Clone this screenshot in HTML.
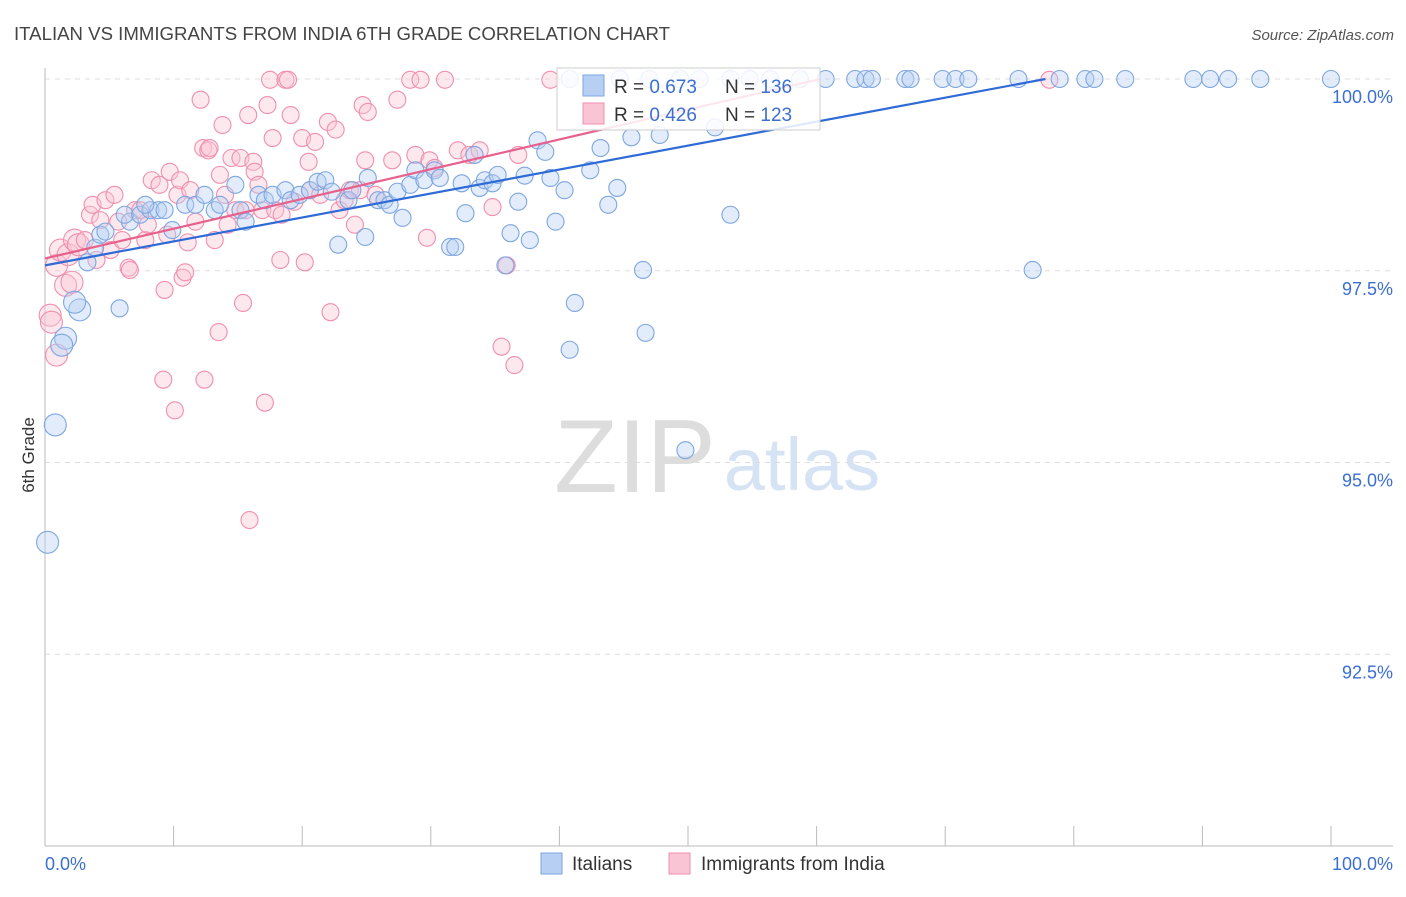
<!DOCTYPE html>
<html><head><meta charset="utf-8"><style>
body{margin:0;background:#fff;font-family:"Liberation Sans",sans-serif;}
svg text{font-family:"Liberation Sans",sans-serif;}
</style></head><body>
<svg id="chart" width="1406" height="892" xmlns="http://www.w3.org/2000/svg">
<text x="14" y="40" font-size="18" fill="#444" textLength="656" lengthAdjust="spacingAndGlyphs">ITALIAN VS IMMIGRANTS FROM INDIA 6TH GRADE CORRELATION CHART</text>
<text x="1394" y="40" font-size="15" fill="#555" text-anchor="end" font-style="italic">Source: ZipAtlas.com</text>
<text transform="translate(34,455) rotate(-90)" font-size="17" fill="#333" text-anchor="middle">6th Grade</text>
<g>
<text x="635" y="492" font-size="104" fill="#ddd" font-family="Liberation Serif" text-anchor="middle">ZIP</text>
<text x="802" y="490" font-size="74" fill="#d5e3f5" text-anchor="middle">atlas</text>
</g>
<g id="grid"></g>
<g id="axes"></g>
<g id="pinkPts"></g>
<g id="bluePts"></g>
<g id="lines"></g>
<g>
<rect x="557" y="68" width="263" height="62" fill="#fff" fill-opacity="0.85" stroke="#ccc"/>
<rect x="583" y="75" width="21" height="21" fill="#b7cff2" stroke="#7ea6e0"/>
<rect x="583" y="103" width="21" height="21" fill="#f9c5d5" stroke="#f08fae"/>
<text x="614" y="93" font-size="19" fill="#333">R = <tspan fill="#3b6fd1">0.673</tspan></text>
<text x="725" y="93" font-size="19" fill="#333">N = <tspan fill="#3b6fd1">136</tspan></text>
<text x="614" y="121" font-size="19" fill="#333">R = <tspan fill="#3b6fd1">0.426</tspan></text>
<text x="725" y="121" font-size="19" fill="#333">N = <tspan fill="#3b6fd1">123</tspan></text>
</g>
<g>
<rect x="541" y="853" width="21" height="21" fill="#b7cff2" stroke="#7ea6e0"/>
<text x="572" y="870" font-size="19" fill="#333">Italians</text>
<rect x="669" y="853" width="21" height="21" fill="#f9c5d5" stroke="#f08fae"/>
<text x="701" y="870" font-size="19" fill="#333">Immigrants from India</text>
</g>
</svg>
<script>
const blueX=[0.2,0.8,1.6,1.3,2.7,2.3,5.8,3.3,3.9,4.3,4.7,6.6,6.2,7.4,8.2,8.8,9.3,7.8,9.9,10.9,11.7,12.4,13.2,13.6,14.8,15.2,15.6,16.6,17.1,17.7,18.7,19.1,19.8,20.6,21.2,21.8,22.3,22.8,23.6,23.9,24.9,25.1,25.9,26.4,26.8,27.4,27.8,28.4,28.8,29.5,30.3,30.7,31.5,31.9,32.4,32.7,33.4,33.8,34.2,34.8,35.2,35.8,36.2,36.8,37.3,37.7,38.3,38.9,39.3,39.7,40.4,40.8,41.2,42.4,43.2,43.8,44.5,45.6,46.5,46.7,47.8,49.8,52.1,53.3,76.8,40.8,44.7,47.0,49.4,50.9,53.3,54.8,56.4,58.7,60.7,63.0,63.8,64.3,66.9,67.3,69.8,70.8,71.8,75.7,78.9,80.9,81.6,84.0,89.3,90.6,92.0,94.5,100];
const blueY=[93.96,95.49,96.62,96.53,96.99,97.09,97.01,97.61,97.80,97.97,98.01,98.14,98.23,98.23,98.29,98.29,98.29,98.36,98.03,98.36,98.36,98.49,98.29,98.36,98.62,98.29,98.14,98.49,98.42,98.49,98.55,98.42,98.49,98.55,98.66,98.68,98.53,97.84,98.42,98.55,97.94,98.71,98.42,98.42,98.36,98.53,98.19,98.62,98.81,98.68,98.81,98.71,97.81,97.81,98.64,98.25,99.01,98.58,98.68,98.64,98.75,97.57,97.99,98.40,98.74,97.90,99.20,99.05,98.71,98.14,98.55,96.47,97.08,98.81,99.10,98.36,98.58,99.24,97.51,96.69,99.27,95.16,99.37,98.23,97.51,100,100,100,100,100,100,100,100,100,100,100,100,100,100,100,100,100,100,100,100,100,100,100,100,100,100,100,100];
const pinkX=[0.4,0.5,0.9,0.9,1.2,1.6,1.8,2.1,2.3,2.6,3.1,3.5,3.7,4.0,4.3,4.7,5.1,5.4,5.7,6.0,6.5,6.6,7.0,7.4,7.8,8.0,8.3,8.9,9.2,9.3,9.5,9.7,10.1,10.3,10.5,10.7,10.9,11.1,11.3,11.7,12.1,12.3,12.4,12.7,12.8,13.2,13.5,13.6,13.8,14.0,14.2,14.5,14.8,15.2,15.4,15.6,15.8,15.9,16.2,16.3,16.6,16.9,17.1,17.3,17.5,17.7,17.9,18.3,18.4,18.7,18.9,19.1,19.4,20.0,20.2,20.5,20.6,21.0,21.4,22.0,22.2,22.6,22.9,23.3,23.7,24.1,24.5,24.7,24.9,25.1,25.7,27.0,27.4,28.4,28.8,29.2,29.7,29.9,30.3,31.1,32.1,33.0,33.8,34.8,35.5,35.9,36.5,36.8,39.3,78.1];
const pinkY=[96.92,96.83,96.40,97.57,97.77,97.31,97.71,97.35,97.90,97.84,97.90,98.23,98.36,97.64,98.16,98.42,97.77,98.49,98.14,97.90,97.54,97.51,98.29,98.29,97.90,98.10,98.68,98.62,96.08,97.25,97.97,98.79,95.68,98.49,98.68,97.41,97.48,97.87,98.55,98.14,99.73,99.10,96.08,99.07,99.10,97.90,96.70,98.75,99.40,98.49,98.10,98.97,98.29,98.97,97.08,98.29,99.53,94.25,98.92,98.79,98.62,98.29,95.78,99.66,99.99,99.23,98.29,97.64,98.23,99.99,99.99,99.53,98.40,99.23,97.61,98.92,98.55,99.18,98.49,99.44,96.96,99.34,98.29,98.42,98.55,98.10,98.55,99.66,98.94,99.57,98.49,98.94,99.73,99.99,99.01,99.99,97.93,98.94,98.84,99.99,99.07,99.01,99.07,98.33,96.51,97.57,96.27,99.01,99.99,99.99];
const blueTrend=[0,97.57,77.8,100];
const pinkTrend=[0,97.66,60.3,100];
const yTicks=[100,97.5,95,92.5];
const yTickLabels=["100.0%","97.5%","95.0%","92.5%"];
const xTicks=[0,10,20,30,40,50,60,70,80,90,100];

const NS="http://www.w3.org/2000/svg";
const X0=45,X1=1331,Y100=79,YPX=76.7;
function sx(v){return X0+(X1-X0)*v/100;}
function sy(v){return Y100+(100-v)*YPX;}
function mk(tag,attrs,parent){const e=document.createElementNS(NS,tag);for(const k in attrs)e.setAttribute(k,attrs[k]);parent.appendChild(e);return e;}
const grid=document.getElementById('grid'),axes=document.getElementById('axes');
yTicks.forEach((t,i)=>{
  const l=mk('line',{x1:45,x2:1393,y1:sy(t),y2:sy(t),stroke:'#ddd','stroke-dasharray':'5,5'},grid);
  
  
  const tx=mk('text',{x:1393,y:sy(t)+24,'font-size':18,fill:'#3b6fd1','text-anchor':'end'},axes);
  tx.textContent=yTickLabels[i];
  
  
});
const ya=mk('line',{x1:45,x2:45,y1:68,y2:846,stroke:'#bbb'},axes);


const xa=mk('line',{x1:45,x2:1393,y1:846,y2:846,stroke:'#bbb'},axes);


xTicks.forEach(t=>{
  const l=mk('line',{x1:sx(t),x2:sx(t),y1:826,y2:846,stroke:'#bbb'},axes);
  
  
});
const xl0=mk('text',{x:45,y:870,'font-size':18,fill:'#3b6fd1'},axes);xl0.textContent='0.0%';


const xl1=mk('text',{x:1393,y:870,'font-size':18,fill:'#3b6fd1','text-anchor':'end'},axes);xl1.textContent='100.0%';


function pts(xs,ys,g,fill,stroke,name){
  xs.forEach((x,i)=>{
    const r=x<3?11:8.5;
    const c=mk('circle',{cx:sx(x),cy:sy(ys[i]),r:r,fill:fill,'fill-opacity':0.4,stroke:stroke,'stroke-width':1.1},g);
    
    
  });
}
pts(pinkX,pinkY,document.getElementById('pinkPts'),'#f9c5d5','#f08fae','india-point');
pts(blueX,blueY,document.getElementById('bluePts'),'#b7cff2','#7ea6e0','italian-point');
const lg=document.getElementById('lines');
const bl=mk('line',{x1:sx(blueTrend[0]),y1:sy(blueTrend[1]),x2:sx(blueTrend[2]),y2:sy(blueTrend[3]),stroke:'#2f6bd6','stroke-width':2.2},lg);


const pl=mk('line',{x1:sx(pinkTrend[0]),y1:sy(pinkTrend[1]),x2:sx(pinkTrend[2]),y2:sy(pinkTrend[3]),stroke:'#e8608c','stroke-width':2.2},lg);


</script>
</body></html>
